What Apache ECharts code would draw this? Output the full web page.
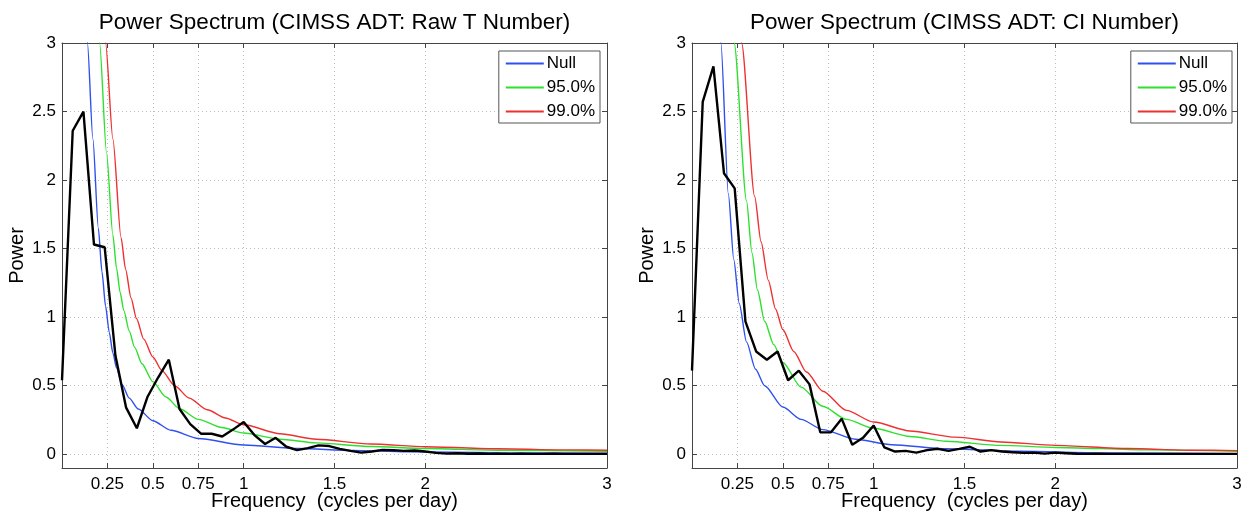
<!DOCTYPE html>
<html><head><meta charset="utf-8">
<script src="https://cdn.jsdelivr.net/npm/echarts@6/dist/echarts.min.js"></script>
<style>html,body{margin:0;padding:0;background:#fff}#c{width:1247px;height:512px}</style>
</head><body><div id="c"></div>
<script>
// ---- data ----
const titles = ['Power Spectrum (CIMSS ADT: Raw T Number)', 'Power Spectrum (CIMSS ADT: CI Number)'];
const xName = 'Frequency  (cycles per day)';
const yName = 'Power';
const xTicks = [0.25, 0.5, 0.75, 1, 1.5, 2, 3];
const yTicks = [0, 0.5, 1, 1.5, 2, 2.5, 3];
const legendNames = ['Null', '95.0%', '99.0%'];

// spectrum frequencies (cycles per day)
const freq = [0, 0.059, 0.118, 0.176, 0.235, 0.294, 0.353, 0.412, 0.471, 0.529, 0.588, 0.647, 0.706, 0.765, 0.824, 0.882, 0.941, 1.0,
  1.059, 1.118, 1.176, 1.235, 1.294, 1.353, 1.412, 1.471, 1.529, 1.588, 1.647, 1.706, 1.765, 1.824, 1.882, 1.941, 2.0,
  2.059, 2.118, 2.176, 2.235, 2.294, 2.353, 2.412, 2.471, 2.529, 2.588, 2.647, 2.706, 2.765, 2.824, 2.882, 2.941, 3.0];

const rawPower = [0.54, 2.36, 2.5, 1.53, 1.51, 0.72, 0.34, 0.19, 0.42, 0.56, 0.69, 0.33, 0.22, 0.15, 0.15, 0.13, 0.18, 0.235,
  0.14, 0.075, 0.12, 0.055, 0.03, 0.045, 0.065, 0.06, 0.04, 0.025, 0.012, 0.02, 0.032, 0.03, 0.025, 0.028, 0.02,
  0.01, 0.005, 0.008, 0.004, 0.006, 0.003, 0.004, 0.003, 0.004, 0.003, 0.003, 0.004, 0.003, 0.003, 0.003, 0.003, 0.003];

const ciPower = [0.61, 2.57, 2.83, 2.05, 1.94, 0.97, 0.75, 0.69, 0.75, 0.54, 0.61, 0.51, 0.16, 0.16, 0.26, 0.07, 0.12, 0.21,
  0.05, 0.02, 0.025, 0.012, 0.03, 0.04, 0.025, 0.04, 0.055, 0.02, 0.03, 0.02, 0.015, 0.01, 0.012, 0.005, 0.012,
  0.008, 0.004, 0.003, 0.004, 0.003, 0.003, 0.003, 0.003, 0.003, 0.003, 0.003, 0.003, 0.003, 0.003, 0.003, 0.003, 0.003];

// significance curves: [frequency, power]
const rawNull = [[0.08, 8], [0.12, 3.9], [0.14, 3.0], [0.17, 2.3], [0.2, 1.65], [0.22, 1.33], [0.24, 1.08], [0.26, 0.89],
  [0.28, 0.74], [0.3, 0.63], [0.33, 0.51], [0.37, 0.41], [0.42, 0.33], [0.5, 0.245], [0.6, 0.175], [0.75, 0.115],
  [1.0, 0.068], [1.3, 0.042], [1.6, 0.028], [1.9, 0.018], [2.4, 0.011], [3.0, 0.008]];
const raw95 = [[0.15, 6], [0.207, 3.0], [0.245, 2.2], [0.28, 1.6], [0.3, 1.36], [0.32, 1.18], [0.34, 1.05], [0.37, 0.9],
  [0.4, 0.78], [0.44, 0.66], [0.5, 0.53], [0.57, 0.42], [0.65, 0.33], [0.75, 0.255], [0.88, 0.195], [1.0, 0.155],
  [1.2, 0.11], [1.4, 0.083], [1.7, 0.057], [2.0, 0.042], [2.4, 0.03], [3.0, 0.022]];
const raw99 = [[0.18, 6], [0.24, 3.0], [0.28, 2.3], [0.325, 1.58], [0.35, 1.35], [0.38, 1.14], [0.41, 0.99], [0.45, 0.84],
  [0.5, 0.71], [0.55, 0.61], [0.62, 0.5], [0.7, 0.41], [0.8, 0.325], [0.9, 0.265], [1.0, 0.215], [1.2, 0.15],
  [1.4, 0.11], [1.7, 0.075], [2.0, 0.055], [2.4, 0.04], [2.8, 0.032], [3.0, 0.03]];

const ciNull = [[0.1, 7], [0.159, 3.0], [0.2, 1.9], [0.23, 1.42], [0.26, 1.1], [0.3, 0.82], [0.35, 0.62], [0.4, 0.5],
  [0.5, 0.345], [0.6, 0.255], [0.72, 0.18], [0.9, 0.11], [1.1, 0.07], [1.4, 0.04], [1.8, 0.022], [2.3, 0.01], [3.0, 0.005]];
const ci95 = [[0.17, 7], [0.232, 3.0], [0.3, 1.85], [0.33, 1.47], [0.36, 1.2], [0.4, 0.97], [0.45, 0.8], [0.5, 0.67],
  [0.6, 0.49], [0.72, 0.35], [0.85, 0.255], [1.0, 0.19], [1.2, 0.13], [1.4, 0.095], [1.7, 0.065], [2.0, 0.05],
  [2.5, 0.032], [3.0, 0.022]];
const ci99 = [[0.21, 7], [0.273, 3.0], [0.345, 1.88], [0.38, 1.55], [0.42, 1.27], [0.46, 1.06], [0.5, 0.91], [0.56, 0.75],
  [0.63, 0.6], [0.72, 0.46], [0.85, 0.32], [1.0, 0.235], [1.2, 0.17], [1.45, 0.125], [1.7, 0.09], [2.0, 0.065],
  [2.4, 0.042], [2.75, 0.03], [3.0, 0.027]];

// ---- chart ----
const FONT = 'Liberation Sans, Arial, sans-serif';
const colors = ['#3050ee', '#2ee02e', '#ee3030'];
const grids = [
  { left: 62, top: 43, width: 545, height: 425, outerBoundsMode: 'none', containLabel: false },
  { left: 692, top: 43, width: 545, height: 425, outerBoundsMode: 'none', containLabel: false }
];
const axisLineStyle = { color: '#444', width: 1 };
const gridLine = { show: true, lineStyle: { color: '#bdbdbd', type: [1, 3], width: 1 } };

const xAxes = [], yAxes = [];
grids.forEach((g, k) => {
  xAxes.push({
    type: 'value', gridIndex: k, position: 'bottom', min: 0, max: 3,
    name: xName, nameLocation: 'middle', nameGap: 23, nameMoveOverlap: false,
    nameTextStyle: { fontFamily: FONT, fontSize: 20, color: '#000' },
    axisLine: { show: true, onZero: false, lineStyle: axisLineStyle },
    axisTick: { show: true, inside: true, length: 5, customValues: xTicks, lineStyle: axisLineStyle },
    axisLabel: { customValues: xTicks, margin: 8, fontFamily: FONT, fontSize: 17, color: '#000' },
    splitLine: gridLine
  });
  xAxes.push({
    type: 'value', gridIndex: k, position: 'top', min: 0, max: 3,
    name: titles[k], nameLocation: 'middle', nameGap: 9, nameMoveOverlap: false,
    nameTextStyle: { fontFamily: FONT, fontSize: 22.5, color: '#000' },
    axisLine: { show: true, onZero: false, lineStyle: axisLineStyle },
    axisTick: { show: true, inside: true, length: 5, customValues: xTicks, lineStyle: axisLineStyle },
    axisLabel: { show: false, customValues: xTicks },
    splitLine: { show: false }
  });
  yAxes.push({
    type: 'value', gridIndex: k, position: 'left', min: -0.1, max: 3,
    name: yName, nameLocation: 'middle', nameGap: 35, nameMoveOverlap: false,
    nameTextStyle: { fontFamily: FONT, fontSize: 20, color: '#000' },
    axisLine: { show: true, onZero: false, lineStyle: axisLineStyle },
    axisTick: { show: true, inside: true, length: 5, customValues: yTicks, lineStyle: axisLineStyle },
    axisLabel: { customValues: yTicks, margin: 6, fontFamily: FONT, fontSize: 17, color: '#000' },
    splitLine: gridLine
  });
  yAxes.push({
    type: 'value', gridIndex: k, position: 'right', min: -0.1, max: 3,
    axisLine: { show: true, onZero: false, lineStyle: axisLineStyle },
    axisTick: { show: true, inside: true, length: 5, customValues: yTicks, lineStyle: axisLineStyle },
    axisLabel: { show: false, customValues: yTicks },
    splitLine: { show: false }
  });
});

function lineSeries(name, data, color, width, k, smooth) {
  return {
    type: 'line', name: name, data: data, xAxisIndex: 2 * k, yAxisIndex: 2 * k,
    showSymbol: false, symbol: 'none', clip: true, smooth: smooth ? 0.25 : false, smoothMonotone: 'x',
    lineStyle: { color: color, width: width }, itemStyle: { color: color },
    emphasis: { disabled: true }, silent: true, animation: false, z: 2
  };
}
const pair = (arr) => freq.map((f, i) => [f, arr[i]]);

const series = [
  lineSeries('Null', rawNull, colors[0], 1.4, 0, true),
  lineSeries('95.0%', raw95, colors[1], 1.4, 0, true),
  lineSeries('99.0%', raw99, colors[2], 1.4, 0, true),
  lineSeries('Spectrum', pair(rawPower), '#000', 2.4, 0, false),
  lineSeries('Null', ciNull, colors[0], 1.4, 1, true),
  lineSeries('95.0%', ci95, colors[1], 1.4, 1, true),
  lineSeries('99.0%', ci99, colors[2], 1.4, 1, true),
  lineSeries('Spectrum', pair(ciPower), '#000', 2.4, 1, false)
];

function legend(right) {
  return {
    data: legendNames, orient: 'vertical', right: right, top: 51,
    icon: 'rect', itemWidth: 38, itemHeight: 2, itemGap: 7,
    padding: [4, 5, 3, 7], borderColor: '#555', borderWidth: 1, borderRadius: 0,
    backgroundColor: '#fff', selectedMode: false,
    textStyle: { fontFamily: FONT, fontSize: 17, color: '#000', padding: [0, 0, 0, -2] }
  };
}

const chart = echarts.init(document.getElementById('c'), null, { renderer: 'canvas' });
chart.setOption({
  animation: false,
  backgroundColor: '#fff',
  grid: grids,
  xAxis: xAxes,
  yAxis: yAxes,
  legend: [legend(1247 - 600), legend(1247 - 1232)],
  series: series
});
</script>
</body></html>
